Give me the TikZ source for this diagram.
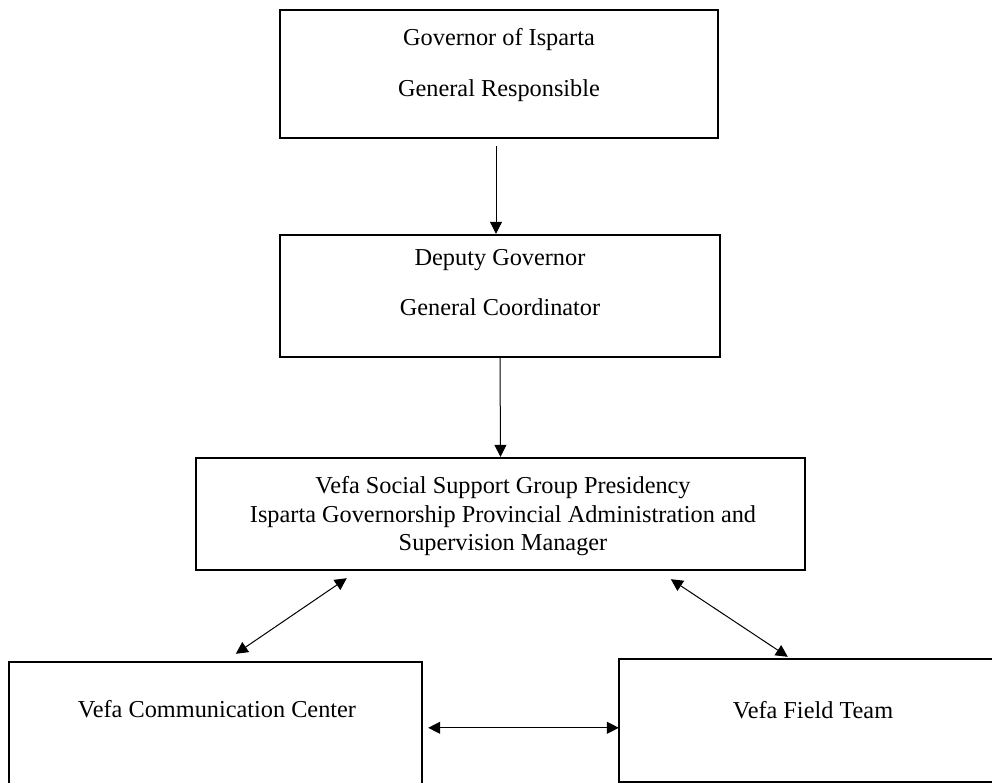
\documentclass[tikz,border=0pt]{standalone}
\usepackage{fontspec}
\setmainfont{Liberation Serif}
\usetikzlibrary{arrows.meta,calc}
\begin{document}
\begin{tikzpicture}[x=1pt,y=-1pt,
  box/.style={draw,line width=2.4pt,inner sep=0pt},
  lbl/.style={anchor=base,font=\fontsize{24.3}{28}\selectfont,inner sep=0pt},
  conn/.style={line width=1pt,-{Triangle[length=12pt,width=12pt]}},
  dconn/.style={line width=1pt,{Triangle[length=12pt,width=12pt]}-{Triangle[length=12pt,width=12pt]}}]
\path[use as bounding box] (0,0) rectangle (992,783);
\clip (0,0) rectangle (992,783);
% boxes
\node[box,minimum width=438pt,minimum height=128pt] (b1) at (499,74) {};
\node[box,minimum width=440pt,minimum height=122pt] (b2) at (500,296) {};
\node[box,minimum width=609pt,minimum height=112pt] (b3) at (500.5,514) {};
\node[box,minimum width=413pt,minimum height=138pt] (b4) at (215.5,731) {};
\node[box,minimum width=386pt,minimum height=123pt] (b5) at (812,720.5) {};
% texts
\node[lbl] (t1a) at (499,45.5) {Governor of Isparta};
\node[lbl] (t1b) at (499,97) {General Responsible};
\node[lbl] (t2a) at (500,266) {Deputy Governor};
\node[lbl] (t2b) at (500,316) {General Coordinator};
\node[lbl] (t3a) at (503,493) {Vefa Social Support Group Presidency};
\node[lbl] (t3b) at (503,522) {Isparta Governorship Provincial Administration and};
\node[lbl] (t3c) at (503,550) {Supervision Manager};
\node[lbl] (t4) at (217,717) {Vefa Communication Center};
\node[lbl] (t5) at (813,718) {Vefa Field Team};
% connectors
\draw[conn] ($(b1.south)+(-3,7)$) -- ($(b2.north)+(-4,0)$);
\draw[conn] (b2.south) -- (b3.north);
\draw[dconn] ($(b3.south west)+(152,7)$) -- ($(b4.north west)+(228,-7)$);
\draw[dconn] ($(b3.south west)+(476,8)$) -- ($(b5.north west)+(170,-1)$);
\draw[dconn] ($(b4.north east)+(5,67)$) -- ($(b5.north west)+(1,70)$);
\end{tikzpicture}
\end{document}
